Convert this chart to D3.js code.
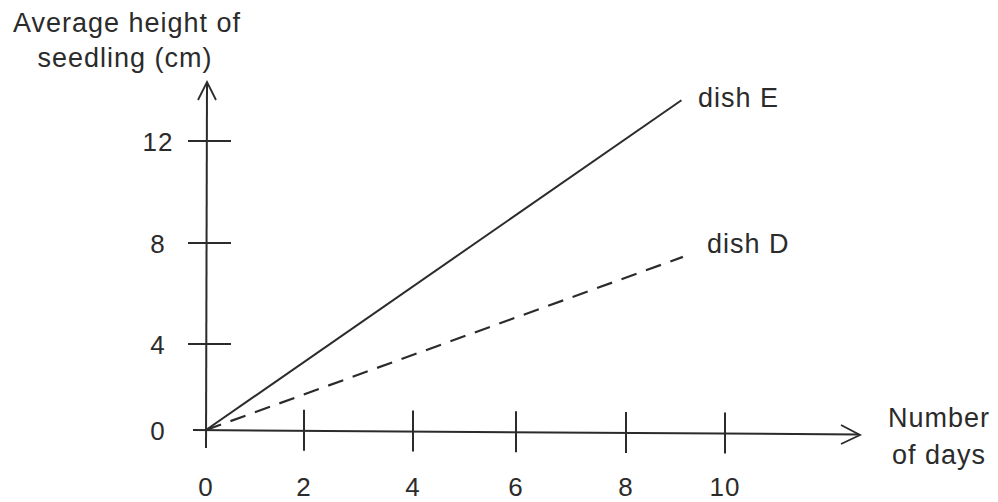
<!DOCTYPE html>
<html>
<head>
<meta charset="utf-8">
<script src="https://cdn.jsdelivr.net/npm/d3@7/dist/d3.min.js"></script>
<style>
  html, body { margin: 0; padding: 0; background: #fff; }
  svg { display: block; }
  text { font-family: "Liberation Sans", Arial, Helvetica, sans-serif; fill: #2b2b2b; letter-spacing: 1px; }
</style>
</head>
<body>
<svg id="chart" width="998" height="502"></svg>
<script>
// Seedling growth: average height against number of days for two dishes
const xTicks = [0, 2, 4, 6, 8, 10];
const yTicks = [0, 4, 8, 12];
const dishE = [{ day: 0, height: 0 }, { day: 9.12, height: 13.6 }];
const dishD = [{ day: 0, height: 0 }, { day: 9.15, height: 7.45 }];
const seriesNames = ["dish E", "dish D"];
const yTitle = ["Average height of", "seedling (cm)"];
const xTitle = ["Number", "of days"];

const svg = d3.select("#chart");
const ink = "#2b2b2b";

// Hand-ruled axes: tick spacing is uneven, so the scales are piecewise linear
const x = d3.scaleLinear().domain(xTicks).range([206, 304, 413, 516, 626, 725]);
const y = d3.scaleLinear().domain(yTicks).range([430, 344, 243, 141]);

const g = svg.append("g");

// y axis with arrow
g.append("line").attr("x1", x(0)).attr("x2", x(0) + 1)
  .attr("y1", 448).attr("y2", 83)
  .attr("stroke", ink).attr("stroke-width", 2);
g.append("path").attr("d", `M${x(0) - 8},${100} L${x(0) + 1},${82} L${x(0) + 10},${100}`)
  .attr("fill", "none").attr("stroke", ink).attr("stroke-width", 1.8);

// x axis with arrow
g.append("line").attr("x1", 193).attr("y1", 430).attr("x2", 859).attr("y2", 434.5)
  .attr("stroke", ink).attr("stroke-width", 2);
g.append("path").attr("d", "M841,425 L860,435 L841,444")
  .attr("fill", "none").attr("stroke", ink).attr("stroke-width", 1.8);

// x ticks and labels
const axisY = d => 430 + (x(d) - 193) * 4.5 / 666;
g.selectAll(".xtick").data(xTicks.filter(d => d > 0)).join("line")
  .attr("x1", d => x(d)).attr("x2", d => x(d))
  .attr("y1", d => axisY(d) - 21).attr("y2", d => axisY(d) + 20)
  .attr("stroke", ink).attr("stroke-width", 2);
g.selectAll(".xlab").data(xTicks).join("text")
  .attr("x", d => x(d)).attr("y", 496)
  .attr("text-anchor", "middle").attr("font-size", 26)
  .text(d => d);

// y ticks and labels
g.selectAll(".ytick").data(yTicks.filter(d => d > 0)).join("line")
  .attr("x1", 188).attr("x2", 231)
  .attr("y1", d => y(d)).attr("y2", d => y(d))
  .attr("stroke", ink).attr("stroke-width", 1.8);
g.selectAll(".ylab").data(yTicks).join("text")
  .attr("x", 158).attr("y", d => y(d) + 9.5)
  .attr("text-anchor", "middle").attr("font-size", 26)
  .text(d => d);

// series lines
const line = d3.line().x(d => x(d.day)).y(d => y(d.height));
g.append("path").datum(dishE).attr("d", line)
  .attr("fill", "none").attr("stroke", ink).attr("stroke-width", 2);
g.append("path").datum(dishD).attr("d", line)
  .attr("fill", "none").attr("stroke", ink).attr("stroke-width", 2.2)
  .attr("stroke-dasharray", "16,10");

// series labels
g.append("text").attr("x", 698).attr("y", 107).attr("font-size", 27).text(seriesNames[0]);
g.append("text").attr("x", 707).attr("y", 253).attr("font-size", 27).text(seriesNames[1]);

// axis titles
g.append("text").attr("x", 127).attr("y", 32).attr("text-anchor", "middle")
  .attr("font-size", 27).text(yTitle[0]);
g.append("text").attr("x", 125).attr("y", 67).attr("text-anchor", "middle")
  .attr("font-size", 27).text(yTitle[1]);
g.append("text").attr("x", 939).attr("y", 427).attr("text-anchor", "middle")
  .attr("font-size", 27).text(xTitle[0]);
g.append("text").attr("x", 939).attr("y", 464).attr("text-anchor", "middle")
  .attr("font-size", 27).text(xTitle[1]);
</script>
</body>
</html>
